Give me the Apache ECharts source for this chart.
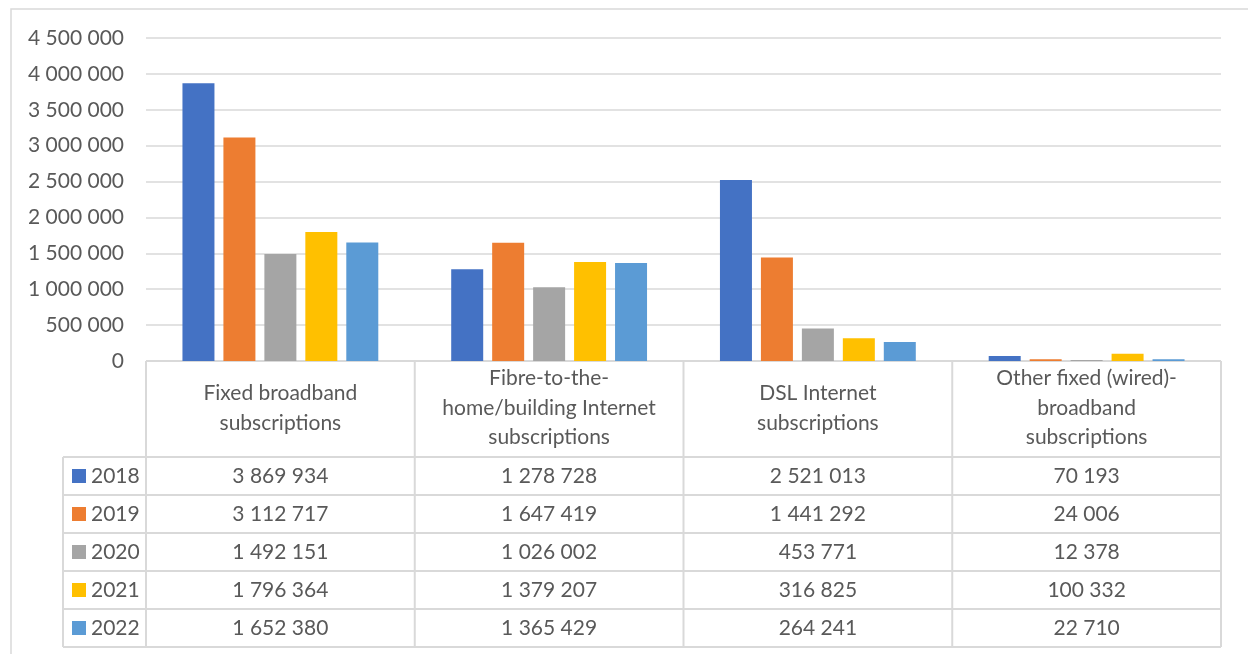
<!DOCTYPE html>
<html>
<head>
<meta charset="utf-8">
<script src="https://cdn.jsdelivr.net/npm/echarts@6/dist/echarts.min.js"></script>
<style>
html, body { margin: 0; padding: 0; background: #fff; }
#main { width: 1248px; height: 654px; }
</style>
</head>
<body>
<div id="main"></div>
<script>
// data
var categories = ['Fixed broadband\nsubscriptions', 'Fibre-to-the-\nhome/building Internet\nsubscriptions', 'DSL Internet\nsubscriptions', 'Other fixed (wired)-\nbroadband\nsubscriptions'];
var years = ['2018', '2019', '2020', '2021', '2022'];
var v2018 = [3869934, 1278728, 2521013, 70193];
var v2019 = [3112717, 1647419, 1441292, 24006];
var v2020 = [1492151, 1026002, 453771, 12378];
var v2021 = [1796364, 1379207, 316825, 100332];
var v2022 = [1652380, 1365429, 264241, 22710];
var yTicks = [0, 500000, 1000000, 1500000, 2000000, 2500000, 3000000, 3500000, 4000000, 4500000];

var seriesData = [v2018, v2019, v2020, v2021, v2022];
var colors = ['#4472C4', '#ED7D31', '#A5A5A5', '#FFC000', '#5B9BD5'];
var font = 'Lato, "Open Sans", sans-serif';
var textColor = '#595959';
var lineColor = '#d9d9d9';

function fmt(n) {
    return String(n).replace(/\B(?=(\d{3})+(?!\d))/g, ' ');
}

var myChart = echarts.init(document.getElementById('main'));

var series = [];
for (var i = 0; i < years.length; i++) {
    series.push({
        name: years[i],
        type: 'bar',
        data: seriesData[i],
        barWidth: 32,
        barGap: '28%',
        itemStyle: { color: colors[i] }
    });
}

var option = {
    animation: false,
    color: colors,
    grid: { left: 146, right: 27, top: 38, bottom: 293 },
    xAxis: {
        type: 'category',
        data: categories,
        axisLine: { lineStyle: { color: lineColor, width: 1 } },
        axisTick: { show: false },
        axisLabel: { show: false }
    },
    yAxis: {
        type: 'value',
        min: yTicks[0],
        max: yTicks[yTicks.length - 1],
        interval: yTicks[1] - yTicks[0],
        axisLine: { show: false },
        axisTick: { show: false },
        splitLine: { lineStyle: { color: lineColor, width: 1.5 } },
        axisLabel: {
            margin: 22,
            color: textColor,
            fontFamily: font,
            fontSize: 21,
            formatter: function (v) { return fmt(v); }
        }
    },
    series: series
};
myChart.setOption(option);

// data table under the plot, placed from the category axis
function buildTable() {
    var c0 = myChart.convertToPixel({ xAxisIndex: 0 }, 0);
    var c1 = myChart.convertToPixel({ xAxisIndex: 0 }, 1);
    var band = c1 - c0;
    var x0 = c0 - band / 2;
    var xEnd = x0 + band * categories.length;
    var yTop = myChart.convertToPixel({ yAxisIndex: 0 }, 0);
    var headH = 96, rowH = 38, legLeft = 63;
    var yRows = yTop + headH;
    var yEnd = yRows + rowH * years.length;
    var els = [];

    // outer chart border
    els.push({ type: 'rect', shape: { x: 11, y: 9, width: 1260, height: 700 },
        style: { fill: null, stroke: lineColor, lineWidth: 1.5 }, silent: true });

    function line(x1, y1, x2, y2) {
        els.push({ type: 'line', shape: { x1: x1, y1: y1, x2: x2, y2: y2 },
            style: { stroke: lineColor, lineWidth: 2 }, silent: true });
    }
    line(x0, yTop, xEnd, yTop);
    for (var r = 0; r <= years.length; r++) {
        line(legLeft, yRows + r * rowH, xEnd, yRows + r * rowH);
    }
    for (var k = 0; k <= categories.length; k++) {
        line(x0 + k * band, yTop, x0 + k * band, yEnd);
    }
    line(legLeft, yRows, legLeft, yEnd);

    // header
    for (var j = 0; j < categories.length; j++) {
        els.push({ type: 'text', x: x0 + (j + 0.5) * band, y: yTop + headH / 2 - 1,
            style: { text: categories[j], fill: textColor, font: '21px ' + font,
                align: 'center', verticalAlign: 'middle', lineHeight: 29.5 } });
    }
    // rows
    for (var s = 0; s < years.length; s++) {
        var cy = yRows + (s + 0.5) * rowH;
        els.push({ type: 'rect', shape: { x: legLeft + 9, y: cy - 7, width: 14, height: 14 },
            style: { fill: colors[s] } });
        els.push({ type: 'text', x: legLeft + 28, y: cy,
            style: { text: years[s], fill: textColor, font: '21px ' + font,
                align: 'left', verticalAlign: 'middle' } });
        for (var j2 = 0; j2 < categories.length; j2++) {
            els.push({ type: 'text', x: x0 + (j2 + 0.5) * band, y: cy,
                style: { text: fmt(seriesData[s][j2]), fill: textColor, font: '21px ' + font,
                    align: 'center', verticalAlign: 'middle' } });
        }
    }
    myChart.setOption({ graphic: { elements: els } });
}
buildTable();
</script>
</body>
</html>
